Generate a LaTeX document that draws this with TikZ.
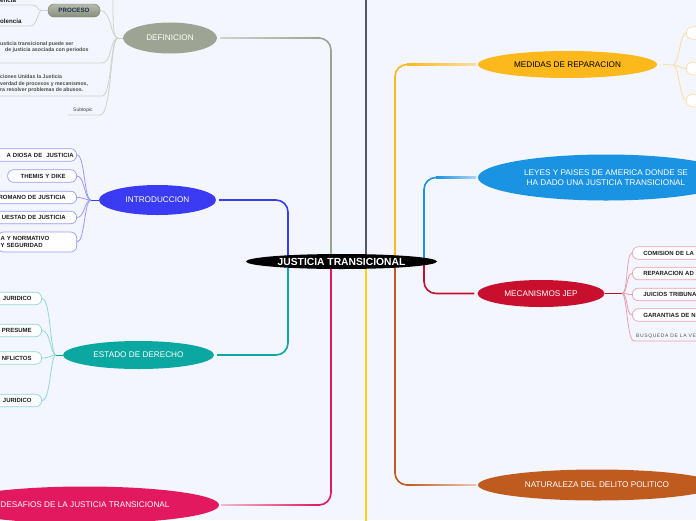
\documentclass[tikz,border=0pt]{standalone}
\usepackage{fontspec}
\setmainfont{Liberation Sans}
\newfontfamily\spacedfont[LetterSpace=12]{Liberation Sans}
\usetikzlibrary{shapes.geometric}
\definecolor{bgc}{HTML}{F3F6FE}
\definecolor{defC}{HTML}{9DA493}
\definecolor{defL}{HTML}{D0D3CA}
\definecolor{introC}{HTML}{3B3BF3}
\definecolor{introL}{HTML}{9A9AF7}
\definecolor{estC}{HTML}{0BA8A1}
\definecolor{estL}{HTML}{8FD9D5}
\definecolor{desC}{HTML}{E2195E}
\definecolor{desL}{HTML}{F5B8CB}
\definecolor{topC}{HTML}{545A60}
\definecolor{botC}{HTML}{FFD21C}
\definecolor{medC}{HTML}{FDB81C}
\definecolor{medL}{HTML}{FBDDA6}
\definecolor{leyC}{HTML}{1B93E3}
\definecolor{leyL}{HTML}{A9D6F5}
\definecolor{mecC}{HTML}{C8102E}
\definecolor{mecL}{HTML}{EBA0AE}
\definecolor{natC}{HTML}{C05B20}
\definecolor{natL}{HTML}{EBC9B6}
\definecolor{proC}{HTML}{1E2D55}
\definecolor{procT}{HTML}{B7BCAE}
\definecolor{procB}{HTML}{878E7C}
\definecolor{procD}{HTML}{767C6C}
\definecolor{txt}{HTML}{1E1E1E}
\pgfdeclarelayer{bg}\pgfdeclarelayer{lines}
\pgfsetlayers{bg,lines,main}
\begin{document}
\begin{tikzpicture}[x=1pt,y=-1pt,
  topic/.style={ellipse, inner sep=0pt, text=white, font=\fontsize{8.2}{9.5}\selectfont, align=center},
  conn/.style={line width=1.6pt, rounded corners=12pt},
  kid/.style={draw, rounded corners=6pt, fill=white, minimum height=12.5pt, inner ysep=0pt, line width=0.7pt, font=\bfseries\fontsize{6}{7}\selectfont, text=txt},
  thinline/.style={line width=0.8pt},
  note/.style={inner sep=0pt, font=\bfseries\fontsize{5.2}{6.7}\selectfont, text=txt!80, align=left}]
\useasboundingbox (0,0) rectangle (696,520);
\clip (0,0) rectangle (696,520);
\begin{pgfonlayer}{bg}\fill[bgc] (0,0) rectangle (696,520);\end{pgfonlayer}

% central
\node[ellipse, fill=black, minimum width=191pt, minimum height=15pt, inner sep=0pt, text=white, font=\bfseries\fontsize{10.3}{11}\selectfont] (c) at (341.5,261.5) {JUSTICIA TRANSICIONAL};

% main topics
\node[topic, fill=defC, minimum width=94pt, minimum height=31pt] (def) at (170,38) {DEFINICION};
\node[topic, fill=introC, minimum width=117pt, minimum height=30pt] (intro) at (157.5,200) {INTRODUCCION};
\node[topic, fill=estC, minimum width=151pt, minimum height=28pt] (est) at (138.5,355) {ESTADO DE DERECHO};
\node[topic, fill=desC, minimum width=268pt, minimum height=37pt] (des) at (85,505) {DESAFIOS DE LA JUSTICIA TRANSICIONAL};
\node[topic, fill=medC, text=black, minimum width=179pt, minimum height=27pt] (med) at (567.5,64.5) {MEDIDAS DE REPARACION};
\node[topic, fill=leyC, minimum width=256pt, minimum height=46pt] (ley) at (606,177.5) {LEYES Y PAISES DE AMERICA DONDE SE\\HA DADO UNA JUSTICIA TRANSICIONAL};
\node[topic, fill=mecC, minimum width=127pt, minimum height=27pt] (mec) at (541,293.5) {MECANISMOS JEP};
\node[topic, fill=natC, minimum width=238pt, minimum height=31pt] (nat) at (597,485) {NATURALEZA DEL DELITO POLITICO};

\coordinate (topend) at (366,-3);
\coordinate (botend) at (366,523);

% main connectors
\begin{pgfonlayer}{lines}
\draw[conn, defC] ([xshift=-10.5pt]c.center) |- ([xshift=3pt]def.east);
\draw[conn, introC] ([xshift=-53.5pt]c.center) |- ([xshift=3pt]intro.east);
\draw[conn, estC] ([xshift=-53.5pt]c.center) |- ([xshift=3pt]est.east);
\draw[conn, desC] ([xshift=-10.5pt]c.center) |- ([xshift=3pt]des.east);
\draw[conn, topC] ([xshift=24.5pt]c.center) -- (topend);
\draw[conn, botC] ([xshift=24.5pt]c.center) -- (botend);
\draw[conn, medC] ([xshift=53.5pt]c.center) |- ([xshift=-3pt]med.west);
\draw[conn, leyC] ([xshift=82.5pt]c.center) |- ([xshift=-3pt]ley.west);
\draw[conn, mecC] ([xshift=82.5pt]c.center) |- ([xshift=-3pt]mec.west);
\draw[conn, natC] ([xshift=53.5pt]c.center) |- ([xshift=-3pt]nat.west);
% fading of horizontal parts
\shade[left color=defL, right color=defC] (220,37.2) rectangle (320,38.8);
\shade[left color=desL, right color=desC] (221,504.2) rectangle (320,505.8);
\shade[left color=medC, right color=medL] (407,63.7) rectangle (476,65.3);
\shade[left color=natC, right color=natL] (407,484.2) rectangle (476,485.8);
\shade[left color=leyC, right color=leyL] (436,176.7) rectangle (476,178.3);
\end{pgfonlayer}

% ---------- DEFINICION children
\coordinate (dj) at (118,38);
\coordinate (dtop) at (113,-3);
\node[draw=procD, rounded corners=6pt, top color=procT, bottom color=procB, minimum width=52pt, minimum height=13pt, inner sep=0pt, text=proC, font=\bfseries\fontsize{6.2}{7}\selectfont] (p) at (74,10.5) {PROCESO};
\coordinate (pj) at (42,10.5);
\node[anchor=base west, inner sep=0pt, font=\bfseries\fontsize{6.2}{7}\selectfont, text=txt] (t1) at (0,2.6) {encia};
\node[anchor=base west, inner sep=0pt, font=\bfseries\fontsize{6.2}{7}\selectfont, text=txt] (t2) at (0,23) {olencia};
\node[note, anchor=north west] (t3) at (0,41.3) {usticia transicional puede ser\\\hspace*{5pt}de justicia asociada con periodos};
\node[note, anchor=north west] (t4) at (0,74.5) {ciones Unidas la Justicia\\verdad de procesos y mecanismos,\\ra resolver problemas de abusos.};
\node[anchor=base west, inner sep=0pt, font=\fontsize{5}{6}\selectfont, text=txt!85] (t5) at (73,111) {Subtopic};
\coordinate (u1) at (-2,63);
\coordinate (u2) at (-2,96);
\coordinate (u3) at (68,115);
\coordinate (u4) at (-2,5);
\coordinate (u5) at (-2,26);
\begin{pgfonlayer}{lines}
\draw[thinline, defL] (def.west) -- (dj);
\draw[thinline, defL] (dj) .. controls (113,38) and (113,25) .. (dtop);
\draw[thinline, defL] (dj) .. controls (110,38) and (112,10.5) .. (p.east);
\draw[thinline, defL] (dj) .. controls (110,38) and (112,63) .. (102,63) -- (u1);
\draw[thinline, defL] (dj) .. controls (110,38) and (112,96) .. (102,96) -- (u2);
\draw[thinline, defL] (dj) .. controls (110,38) and (112,115) .. (100,115) -- (u3);
\draw[thinline, defL] (p.west) -- (pj);
\draw[thinline, defL] (pj) .. controls (37,10.5) and (38,5) .. (32,5) -- (u4);
\draw[thinline, defL] (pj) .. controls (37,10.5) and (38,26) .. (30,26) -- (u5);
\end{pgfonlayer}

% ---------- INTRODUCCION children
\coordinate (ij) at (91,200);
\node[kid, draw=introL, anchor=east, text width=95pt, align=right, inner xsep=3pt] (k1) at (77,155) {A DIOSA DE~ JUSTICIA};
\node[kid, draw=introL, anchor=east, text width=47pt, align=right, inner xsep=11pt] (k2) at (77,176) {THEMIS Y DIKE};
\node[kid, draw=introL, anchor=east, text width=95pt, align=right, inner xsep=11pt] (k3) at (77,197.5) {ROMANO DE JUSTICIA};
\node[kid, draw=introL, anchor=east, text width=95pt, align=right, inner xsep=11pt] (k4) at (77,217.5) {UESTAD DE JUSTICIA};
\node[kid, draw=introL, anchor=east, text width=73pt, align=left, inner xsep=3pt, minimum height=20pt, font=\bfseries\fontsize{6}{7}\selectfont] (k5) at (77,242) {A Y NORMATIVO\\Y SEGURIDAD};
\begin{pgfonlayer}{lines}
\draw[thinline, introC] (intro.west) -- (ij);
\foreach \k in {k1,k2,k3,k4,k5}
  \draw[thinline, introL] (ij) .. controls (84,200) and (85,0 |- \k.east) .. (\k.east);
\end{pgfonlayer}

% ---------- ESTADO children
\coordinate (ej) at (56,355);
\node[kid, draw=estL, anchor=east, text width=80pt, align=right, inner xsep=10pt] (e1) at (42,298.5) {JURIDICO};
\node[kid, draw=estL, anchor=east, text width=80pt, align=right, inner xsep=10pt] (e2) at (42,330.5) {PRESUME};
\node[kid, draw=estL, anchor=east, text width=80pt, align=right, inner xsep=10pt] (e3) at (42,358) {NFLICTOS};
\node[kid, draw=estL, anchor=east, text width=80pt, align=right, inner xsep=10pt] (e4) at (42,400.5) {JURIDICO};
\begin{pgfonlayer}{lines}
\draw[thinline, estC] (est.west) -- (ej);
\foreach \k in {e1,e2,e3,e4}
  \draw[thinline, estL] (ej) .. controls (50,355) and (51,0 |- \k.east) .. (\k.east);
\end{pgfonlayer}

% ---------- MEDIDAS children
\coordinate (mj) at (673,65);
\node[kid, draw=medL, anchor=west, minimum width=40pt] (m1) at (686,33) {};
\node[kid, draw=medL, anchor=west, minimum width=40pt] (m2) at (686,68.5) {};
\node[kid, draw=medL, anchor=west, minimum width=40pt] (m3) at (686,100.5) {};
\begin{pgfonlayer}{lines}
\draw[thinline, medL] ([xshift=6pt]med.east) -- (mj);
\foreach \k in {m1,m2,m3}
  \draw[thinline, medL] (mj) .. controls (679,65) and (680,0 |- \k.west) .. (\k.west);
\end{pgfonlayer}

% ---------- MECANISMOS children
\coordinate (xj) at (622,293.5);
\coordinate (xend) at (700,341);
\node[kid, draw=mecL, anchor=west, text width=90pt, align=left, inner xsep=11pt] (x1) at (632,253) {COMISION DE LA};
\node[kid, draw=mecL, anchor=west, text width=90pt, align=left, inner xsep=11pt] (x2) at (632,273.5) {REPARACION AD};
\node[kid, draw=mecL, anchor=west, text width=90pt, align=left, inner xsep=11pt] (x3) at (632,294.5) {JUICIOS TRIBUNA};
\node[kid, draw=mecL, anchor=west, text width=90pt, align=left, inner xsep=11pt] (x4) at (632,315) {GARANTIAS DE N};
\node[anchor=base west, inner sep=0pt, font=\spacedfont\fontsize{5}{6}\selectfont, text=txt!75] (x5) at (636,337.5) {BUSQUEDA DE LA VE};
\begin{pgfonlayer}{lines}
\draw[thinline, mecC] (mec.east) -- (xj);
\foreach \k in {x1,x2,x3,x4}
  \draw[thinline, mecL] (xj) .. controls (628,293.5) and (626,0 |- \k.west) .. (\k.west);
\draw[thinline, mecL] (xj) .. controls (627,293.5) and (627,341) .. (634,341) -- (xend);
\end{pgfonlayer}
\end{tikzpicture}
\end{document}
